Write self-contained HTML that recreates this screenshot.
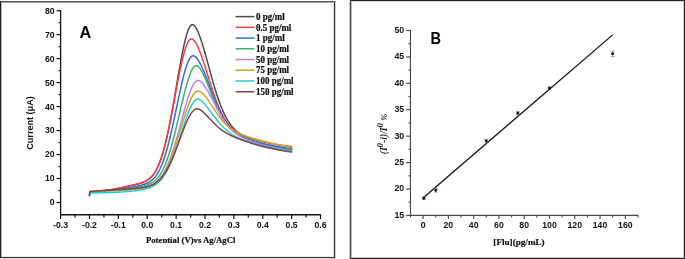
<!DOCTYPE html>
<html><head><meta charset="utf-8"><style>
html,body{margin:0;padding:0;background:#fff;-webkit-font-smoothing:antialiased;}
text{-webkit-font-smoothing:antialiased;}
body{width:685px;height:259px;overflow:hidden;}
svg{display:block;}
</style></head><body>
<svg width="685" height="259" viewBox="0 0 685 259" style="will-change:transform">
<rect width="685" height="259" fill="#fff"/>
<g shape-rendering="crispEdges">
<rect x="1" y="2" width="333" height="1" fill="#9a9a9a"/>
<rect x="1" y="256" width="333" height="1" fill="#eeeeee"/>
<rect x="0" y="258" width="336" height="1" fill="#dddddd"/>
<rect x="1" y="2" width="1" height="255" fill="#b4b4b4"/>
<rect x="333" y="2" width="1" height="255" fill="#dddddd"/>
<rect x="335" y="1" width="1" height="257" fill="#cccccc"/>
<rect x="0" y="1" width="335" height="1" fill="#5a5a5a"/>
<rect x="0" y="1" width="1" height="257" fill="#222222"/>
<rect x="334" y="1" width="1" height="257" fill="#3c3c3c"/>
<rect x="0" y="257" width="335" height="1" fill="#333333"/>
<rect x="349" y="0" width="1" height="259" fill="#cccccc"/>
<rect x="351" y="1" width="1" height="257" fill="#bbbbbb"/>
<rect x="351" y="1" width="333" height="1" fill="#dddddd"/>
<rect x="683" y="1" width="1" height="257" fill="#cccccc"/>
<rect x="351" y="257" width="332" height="1" fill="#cccccc"/>
<rect x="350" y="0" width="335" height="1" fill="#222222"/>
<rect x="350" y="0" width="1" height="259" fill="#444444"/>
<rect x="684" y="0" width="1" height="259" fill="#222222"/>
<rect x="350" y="258" width="335" height="1" fill="#222222"/>
</g>
<g stroke="#111" stroke-width="1.2" fill="none">
<path d="M60.60,10.20 V214.75 H320.82" stroke-width="1.3"/>
<path d="M56.60,202.50 H60.60"/>
<path d="M56.60,178.53 H60.60"/>
<path d="M56.60,154.55 H60.60"/>
<path d="M56.60,130.57 H60.60"/>
<path d="M56.60,106.60 H60.60"/>
<path d="M56.60,82.62 H60.60"/>
<path d="M56.60,58.65 H60.60"/>
<path d="M56.60,34.68 H60.60"/>
<path d="M56.60,10.70 H60.60"/>
<path d="M58.60,190.51 H60.60"/>
<path d="M58.60,166.54 H60.60"/>
<path d="M58.60,142.56 H60.60"/>
<path d="M58.60,118.59 H60.60"/>
<path d="M58.60,94.61 H60.60"/>
<path d="M58.60,70.64 H60.60"/>
<path d="M58.60,46.66 H60.60"/>
<path d="M58.60,22.69 H60.60"/>
<path d="M60.60,214.75 V219.05"/>
<path d="M89.48,214.75 V219.05"/>
<path d="M118.36,214.75 V219.05"/>
<path d="M147.24,214.75 V219.05"/>
<path d="M176.12,214.75 V219.05"/>
<path d="M205.00,214.75 V219.05"/>
<path d="M233.88,214.75 V219.05"/>
<path d="M262.76,214.75 V219.05"/>
<path d="M291.64,214.75 V219.05"/>
<path d="M320.52,214.75 V219.05"/>
<path d="M75.04,214.75 V217.55"/>
<path d="M103.92,214.75 V217.55"/>
<path d="M132.80,214.75 V217.55"/>
<path d="M161.68,214.75 V217.55"/>
<path d="M190.56,214.75 V217.55"/>
<path d="M219.44,214.75 V217.55"/>
<path d="M248.32,214.75 V217.55"/>
<path d="M277.20,214.75 V217.55"/>
<path d="M306.08,214.75 V217.55"/>
</g>
<g font-family='"Liberation Sans", sans-serif' font-weight="bold" font-size="8.7" fill="#111">
<text x="54.70" y="205.40" text-anchor="end">0</text>
<text x="54.70" y="181.43" text-anchor="end">10</text>
<text x="54.70" y="157.45" text-anchor="end">20</text>
<text x="54.70" y="133.47" text-anchor="end">30</text>
<text x="54.70" y="109.50" text-anchor="end">40</text>
<text x="54.70" y="85.53" text-anchor="end">50</text>
<text x="54.70" y="61.55" text-anchor="end">60</text>
<text x="54.70" y="37.58" text-anchor="end">70</text>
<text x="54.70" y="13.60" text-anchor="end">80</text>
<text x="60.60" y="227.8" text-anchor="middle">-0.3</text>
<text x="89.48" y="227.8" text-anchor="middle">-0.2</text>
<text x="118.36" y="227.8" text-anchor="middle">-0.1</text>
<text x="147.24" y="227.8" text-anchor="middle">0.0</text>
<text x="176.12" y="227.8" text-anchor="middle">0.1</text>
<text x="205.00" y="227.8" text-anchor="middle">0.2</text>
<text x="233.88" y="227.8" text-anchor="middle">0.3</text>
<text x="262.76" y="227.8" text-anchor="middle">0.4</text>
<text x="291.64" y="227.8" text-anchor="middle">0.5</text>
<text x="320.52" y="227.8" text-anchor="middle">0.6</text>
</g>
<text x="33.2" y="123" font-family='"Liberation Sans", sans-serif' font-weight="bold" font-size="9.3" fill="#111" text-anchor="middle" textLength="53.5" lengthAdjust="spacingAndGlyphs" transform="rotate(-90 33.2 123)">Current (μA)</text>
<text x="190.7" y="243.2" font-family='"Liberation Serif", serif' font-weight="bold" font-size="8.9" fill="#111" stroke="#111" stroke-width="0.2" text-anchor="middle" textLength="89.5" lengthAdjust="spacingAndGlyphs">Potential (V)vs Ag/AgCl</text>
<text x="79.5" y="38.0" font-family='"Liberation Sans", sans-serif' font-weight="bold" font-size="16.3" fill="#000">A</text>
<g fill="none" stroke-width="1.5" stroke-linejoin="round" stroke-linecap="round">
<path d="M89.48,195.34 L90.06,192.20 L90.64,192.18 L91.21,192.15 L91.79,192.11 L92.37,192.07 L92.95,192.03 L93.52,191.99 L94.10,191.95 L94.68,191.90 L95.26,191.85 L95.83,191.80 L96.41,191.74 L96.99,191.69 L97.57,191.63 L98.14,191.58 L98.72,191.52 L99.30,191.46 L99.88,191.40 L100.45,191.34 L101.03,191.27 L101.61,191.21 L102.19,191.14 L102.76,191.07 L103.34,191.01 L103.92,190.93 L104.50,190.86 L105.08,190.79 L105.65,190.71 L106.23,190.63 L106.81,190.55 L107.39,190.47 L107.96,190.38 L108.54,190.30 L109.12,190.21 L109.70,190.12 L110.27,190.03 L110.85,189.93 L111.43,189.84 L112.01,189.74 L112.58,189.64 L113.16,189.54 L113.74,189.44 L114.32,189.34 L114.89,189.23 L115.47,189.13 L116.05,189.02 L116.63,188.91 L117.20,188.80 L117.78,188.69 L118.36,188.58 L118.94,188.46 L119.52,188.34 L120.09,188.22 L120.67,188.09 L121.25,187.96 L121.83,187.83 L122.40,187.69 L122.98,187.56 L123.56,187.42 L124.14,187.28 L124.71,187.13 L125.29,186.99 L125.87,186.85 L126.45,186.71 L127.02,186.57 L127.60,186.43 L128.18,186.29 L128.76,186.16 L129.33,186.02 L129.91,185.88 L130.49,185.75 L131.07,185.62 L131.64,185.48 L132.22,185.35 L132.80,185.21 L133.38,185.07 L133.96,184.93 L134.53,184.79 L135.11,184.65 L135.69,184.50 L136.27,184.35 L136.84,184.20 L137.42,184.05 L138.00,183.89 L138.58,183.73 L139.15,183.56 L139.73,183.39 L140.31,183.21 L140.89,183.02 L141.46,182.82 L142.04,182.61 L142.62,182.39 L143.20,182.16 L143.77,181.92 L144.35,181.65 L144.93,181.38 L145.51,181.08 L146.08,180.76 L146.66,180.43 L147.24,180.07 L147.82,179.69 L148.40,179.29 L148.97,178.86 L149.55,178.41 L150.13,177.92 L150.71,177.41 L151.28,176.86 L151.86,176.27 L152.44,175.63 L153.02,174.95 L153.59,174.22 L154.17,173.43 L154.75,172.57 L155.33,171.65 L155.90,170.67 L156.48,169.61 L157.06,168.48 L157.64,167.28 L158.21,166.00 L158.79,164.65 L159.37,163.22 L159.95,161.71 L160.52,160.12 L161.10,158.45 L161.68,156.70 L162.26,154.86 L162.84,152.94 L163.41,150.94 L163.99,148.85 L164.57,146.68 L165.15,144.42 L165.72,142.07 L166.30,139.64 L166.88,137.13 L167.46,134.53 L168.03,131.85 L168.61,129.10 L169.19,126.26 L169.77,123.36 L170.34,120.38 L170.92,117.34 L171.50,114.24 L172.08,111.08 L172.65,107.87 L173.23,104.62 L173.81,101.32 L174.39,98.00 L174.96,94.64 L175.54,91.27 L176.12,87.88 L176.70,84.50 L177.28,81.11 L177.85,77.75 L178.43,74.40 L179.01,71.09 L179.59,67.82 L180.16,64.59 L180.74,61.43 L181.32,58.34 L181.90,55.33 L182.47,52.40 L183.05,49.57 L183.63,46.85 L184.21,44.25 L184.78,41.77 L185.36,39.43 L185.94,37.23 L186.52,35.17 L187.09,33.28 L187.67,31.56 L188.25,30.01 L188.83,28.64 L189.40,27.46 L189.98,26.48 L190.56,25.71 L191.14,25.13 L191.72,24.77 L192.29,24.61 L192.87,24.65 L193.45,24.88 L194.03,25.29 L194.60,25.87 L195.18,26.60 L195.76,27.46 L196.34,28.45 L196.91,29.56 L197.49,30.77 L198.07,32.07 L198.65,33.46 L199.22,34.92 L199.80,36.47 L200.38,38.08 L200.96,39.76 L201.53,41.50 L202.11,43.30 L202.69,45.15 L203.27,47.05 L203.84,48.99 L204.42,50.97 L205.00,52.99 L205.58,55.03 L206.16,57.10 L206.73,59.19 L207.31,61.29 L207.89,63.41 L208.47,65.53 L209.04,67.65 L209.62,69.77 L210.20,71.88 L210.78,73.98 L211.35,76.07 L211.93,78.14 L212.51,80.19 L213.09,82.22 L213.66,84.21 L214.24,86.18 L214.82,88.12 L215.40,90.02 L215.97,91.88 L216.55,93.71 L217.13,95.49 L217.71,97.23 L218.28,98.93 L218.86,100.59 L219.44,102.20 L220.02,103.77 L220.60,105.28 L221.17,106.76 L221.75,108.18 L222.33,109.56 L222.91,110.90 L223.48,112.19 L224.06,113.43 L224.64,114.63 L225.22,115.79 L225.79,116.90 L226.37,117.97 L226.95,119.00 L227.53,119.99 L228.10,120.94 L228.68,121.85 L229.26,122.73 L229.84,123.57 L230.41,124.38 L230.99,125.15 L231.57,125.89 L232.15,126.61 L232.72,127.29 L233.30,127.94 L233.88,128.57 L234.46,129.18 L235.04,129.76 L235.61,130.32 L236.19,130.85 L236.77,131.37 L237.35,131.86 L237.92,132.34 L238.50,132.80 L239.08,133.24 L239.66,133.67 L240.23,134.08 L240.81,134.48 L241.39,134.87 L241.97,135.24 L242.54,135.60 L243.12,135.95 L243.70,136.30 L244.28,136.63 L244.85,136.95 L245.43,137.26 L246.01,137.57 L246.59,137.87 L247.16,138.16 L247.74,138.44 L248.32,138.72 L248.90,138.99 L249.48,139.25 L250.05,139.51 L250.63,139.77 L251.21,140.02 L251.79,140.26 L252.36,140.50 L252.94,140.74 L253.52,140.97 L254.10,141.20 L254.67,141.42 L255.25,141.64 L255.83,141.86 L256.41,142.07 L256.98,142.28 L257.56,142.48 L258.14,142.68 L258.72,142.88 L259.29,143.08 L259.87,143.27 L260.45,143.46 L261.03,143.64 L261.60,143.83 L262.18,144.01 L262.76,144.18 L263.34,144.36 L263.92,144.53 L264.49,144.70 L265.07,144.86 L265.65,145.03 L266.23,145.19 L266.80,145.34 L267.38,145.50 L267.96,145.65 L268.54,145.80 L269.11,145.94 L269.69,146.08 L270.27,146.22 L270.85,146.36 L271.42,146.50 L272.00,146.63 L272.58,146.76 L273.16,146.88 L273.73,147.01 L274.31,147.13 L274.89,147.25 L275.47,147.36 L276.04,147.47 L276.62,147.58 L277.20,147.69 L277.78,147.79 L278.36,147.90 L278.93,147.99 L279.51,148.09 L280.09,148.18 L280.67,148.27 L281.24,148.36 L281.82,148.45 L282.40,148.53 L282.98,148.61 L283.55,148.69 L284.13,148.76 L284.71,148.83 L285.29,148.90 L285.86,148.97 L286.44,149.03 L287.02,149.09 L287.60,149.14 L288.17,149.20 L288.75,149.24 L289.33,149.29 L289.91,149.33 L290.48,149.37 L291.06,149.40 L291.64,149.42" stroke="#4d4d4d"/>
<path d="M89.48,195.24 L90.06,192.09 L90.64,192.06 L91.21,192.02 L91.79,191.97 L92.37,191.92 L92.95,191.87 L93.52,191.81 L94.10,191.76 L94.68,191.69 L95.26,191.63 L95.83,191.57 L96.41,191.50 L96.99,191.44 L97.57,191.37 L98.14,191.30 L98.72,191.23 L99.30,191.16 L99.88,191.09 L100.45,191.02 L101.03,190.95 L101.61,190.88 L102.19,190.80 L102.76,190.73 L103.34,190.65 L103.92,190.57 L104.50,190.50 L105.08,190.41 L105.65,190.33 L106.23,190.25 L106.81,190.16 L107.39,190.08 L107.96,189.99 L108.54,189.90 L109.12,189.81 L109.70,189.71 L110.27,189.62 L110.85,189.52 L111.43,189.43 L112.01,189.33 L112.58,189.23 L113.16,189.13 L113.74,189.03 L114.32,188.93 L114.89,188.83 L115.47,188.73 L116.05,188.62 L116.63,188.52 L117.20,188.41 L117.78,188.31 L118.36,188.20 L118.94,188.09 L119.52,187.97 L120.09,187.85 L120.67,187.73 L121.25,187.61 L121.83,187.49 L122.40,187.36 L122.98,187.23 L123.56,187.10 L124.14,186.97 L124.71,186.84 L125.29,186.71 L125.87,186.58 L126.45,186.45 L127.02,186.32 L127.60,186.19 L128.18,186.07 L128.76,185.94 L129.33,185.82 L129.91,185.70 L130.49,185.58 L131.07,185.46 L131.64,185.34 L132.22,185.22 L132.80,185.10 L133.38,184.98 L133.96,184.85 L134.53,184.73 L135.11,184.60 L135.69,184.47 L136.27,184.34 L136.84,184.20 L137.42,184.06 L138.00,183.92 L138.58,183.77 L139.15,183.62 L139.73,183.46 L140.31,183.29 L140.89,183.12 L141.46,182.93 L142.04,182.74 L142.62,182.53 L143.20,182.31 L143.77,182.07 L144.35,181.82 L144.93,181.55 L145.51,181.25 L146.08,180.94 L146.66,180.61 L147.24,180.26 L147.82,179.88 L148.40,179.47 L148.97,179.04 L149.55,178.59 L150.13,178.10 L150.71,177.58 L151.28,177.02 L151.86,176.42 L152.44,175.77 L153.02,175.08 L153.59,174.33 L154.17,173.53 L154.75,172.66 L155.33,171.72 L155.90,170.72 L156.48,169.65 L157.06,168.50 L157.64,167.28 L158.21,165.99 L158.79,164.62 L159.37,163.17 L159.95,161.65 L160.52,160.05 L161.10,158.37 L161.68,156.62 L162.26,154.78 L162.84,152.87 L163.41,150.87 L163.99,148.79 L164.57,146.64 L165.15,144.41 L165.72,142.09 L166.30,139.70 L166.88,137.24 L167.46,134.70 L168.03,132.10 L168.61,129.42 L169.19,126.68 L169.77,123.88 L170.34,121.03 L170.92,118.12 L171.50,115.16 L172.08,112.17 L172.65,109.14 L173.23,106.07 L173.81,102.99 L174.39,99.89 L174.96,96.78 L175.54,93.67 L176.12,90.56 L176.70,87.47 L177.28,84.40 L177.85,81.36 L178.43,78.36 L179.01,75.42 L179.59,72.52 L180.16,69.70 L180.74,66.94 L181.32,64.27 L181.90,61.70 L182.47,59.22 L183.05,56.85 L183.63,54.60 L184.21,52.47 L184.78,50.48 L185.36,48.62 L185.94,46.91 L186.52,45.36 L187.09,43.96 L187.67,42.73 L188.25,41.67 L188.83,40.78 L189.40,40.07 L189.98,39.54 L190.56,39.19 L191.14,39.01 L191.72,39.01 L192.29,39.16 L192.87,39.47 L193.45,39.92 L194.03,40.50 L194.60,41.20 L195.18,42.01 L195.76,42.91 L196.34,43.91 L196.91,45.00 L197.49,46.16 L198.07,47.39 L198.65,48.70 L199.22,50.07 L199.80,51.50 L200.38,52.99 L200.96,54.53 L201.53,56.12 L202.11,57.76 L202.69,59.43 L203.27,61.15 L203.84,62.89 L204.42,64.67 L205.00,66.47 L205.58,68.28 L206.16,70.12 L206.73,71.96 L207.31,73.81 L207.89,75.67 L208.47,77.52 L209.04,79.37 L209.62,81.21 L210.20,83.04 L210.78,84.86 L211.35,86.65 L211.93,88.43 L212.51,90.18 L213.09,91.91 L213.66,93.61 L214.24,95.28 L214.82,96.91 L215.40,98.52 L215.97,100.08 L216.55,101.61 L217.13,103.10 L217.71,104.55 L218.28,105.96 L218.86,107.33 L219.44,108.66 L220.02,109.95 L220.60,111.20 L221.17,112.40 L221.75,113.57 L222.33,114.69 L222.91,115.77 L223.48,116.81 L224.06,117.82 L224.64,118.78 L225.22,119.71 L225.79,120.59 L226.37,121.45 L226.95,122.26 L227.53,123.05 L228.10,123.80 L228.68,124.52 L229.26,125.21 L229.84,125.86 L230.41,126.49 L230.99,127.10 L231.57,127.67 L232.15,128.23 L232.72,128.75 L233.30,129.26 L233.88,129.74 L234.46,130.21 L235.04,130.65 L235.61,131.07 L236.19,131.48 L236.77,131.87 L237.35,132.25 L237.92,132.61 L238.50,132.96 L239.08,133.29 L239.66,133.61 L240.23,133.92 L240.81,134.22 L241.39,134.51 L241.97,134.79 L242.54,135.07 L243.12,135.33 L243.70,135.58 L244.28,135.83 L244.85,136.07 L245.43,136.31 L246.01,136.54 L246.59,136.76 L247.16,136.98 L247.74,137.19 L248.32,137.40 L248.90,137.60 L249.48,137.80 L250.05,138.00 L250.63,138.19 L251.21,138.38 L251.79,138.57 L252.36,138.75 L252.94,138.93 L253.52,139.11 L254.10,139.28 L254.67,139.45 L255.25,139.62 L255.83,139.79 L256.41,139.95 L256.98,140.11 L257.56,140.27 L258.14,140.43 L258.72,140.59 L259.29,140.74 L259.87,140.89 L260.45,141.04 L261.03,141.19 L261.60,141.33 L262.18,141.48 L262.76,141.62 L263.34,141.76 L263.92,141.90 L264.49,142.03 L265.07,142.17 L265.65,142.30 L266.23,142.43 L266.80,142.56 L267.38,142.69 L267.96,142.81 L268.54,142.94 L269.11,143.06 L269.69,143.18 L270.27,143.30 L270.85,143.42 L271.42,143.54 L272.00,143.65 L272.58,143.76 L273.16,143.87 L273.73,143.98 L274.31,144.09 L274.89,144.20 L275.47,144.30 L276.04,144.40 L276.62,144.50 L277.20,144.60 L277.78,144.70 L278.36,144.80 L278.93,144.89 L279.51,144.98 L280.09,145.07 L280.67,145.16 L281.24,145.25 L281.82,145.34 L282.40,145.42 L282.98,145.50 L283.55,145.59 L284.13,145.67 L284.71,145.74 L285.29,145.82 L285.86,145.89 L286.44,145.96 L287.02,146.03 L287.60,146.10 L288.17,146.16 L288.75,146.22 L289.33,146.28 L289.91,146.33 L290.48,146.38 L291.06,146.42 L291.64,146.45" stroke="#ff3d3d"/>
<path d="M89.48,195.13 L90.06,191.98 L90.64,191.94 L91.21,191.89 L91.79,191.84 L92.37,191.79 L92.95,191.73 L93.52,191.68 L94.10,191.62 L94.68,191.55 L95.26,191.49 L95.83,191.43 L96.41,191.37 L96.99,191.31 L97.57,191.25 L98.14,191.18 L98.72,191.12 L99.30,191.06 L99.88,191.00 L100.45,190.94 L101.03,190.88 L101.61,190.82 L102.19,190.76 L102.76,190.70 L103.34,190.64 L103.92,190.58 L104.50,190.52 L105.08,190.46 L105.65,190.40 L106.23,190.34 L106.81,190.28 L107.39,190.22 L107.96,190.16 L108.54,190.10 L109.12,190.04 L109.70,189.99 L110.27,189.93 L110.85,189.87 L111.43,189.81 L112.01,189.75 L112.58,189.70 L113.16,189.64 L113.74,189.58 L114.32,189.53 L114.89,189.47 L115.47,189.41 L116.05,189.35 L116.63,189.29 L117.20,189.24 L117.78,189.18 L118.36,189.12 L118.94,189.05 L119.52,188.99 L120.09,188.93 L120.67,188.86 L121.25,188.79 L121.83,188.72 L122.40,188.65 L122.98,188.58 L123.56,188.50 L124.14,188.42 L124.71,188.35 L125.29,188.27 L125.87,188.18 L126.45,188.10 L127.02,188.01 L127.60,187.93 L128.18,187.84 L128.76,187.75 L129.33,187.66 L129.91,187.56 L130.49,187.47 L131.07,187.37 L131.64,187.27 L132.22,187.16 L132.80,187.05 L133.38,186.94 L133.96,186.83 L134.53,186.71 L135.11,186.59 L135.69,186.46 L136.27,186.34 L136.84,186.21 L137.42,186.07 L138.00,185.94 L138.58,185.80 L139.15,185.67 L139.73,185.52 L140.31,185.38 L140.89,185.23 L141.46,185.08 L142.04,184.91 L142.62,184.74 L143.20,184.57 L143.77,184.38 L144.35,184.17 L144.93,183.96 L145.51,183.73 L146.08,183.49 L146.66,183.23 L147.24,182.96 L147.82,182.67 L148.40,182.37 L148.97,182.04 L149.55,181.71 L150.13,181.35 L150.71,180.97 L151.28,180.57 L151.86,180.13 L152.44,179.67 L153.02,179.17 L153.59,178.63 L154.17,178.04 L154.75,177.40 L155.33,176.71 L155.90,175.96 L156.48,175.15 L157.06,174.28 L157.64,173.36 L158.21,172.37 L158.79,171.31 L159.37,170.20 L159.95,169.01 L160.52,167.77 L161.10,166.46 L161.68,165.08 L162.26,163.63 L162.84,162.11 L163.41,160.53 L163.99,158.87 L164.57,157.15 L165.15,155.35 L165.72,153.48 L166.30,151.54 L166.88,149.54 L167.46,147.46 L168.03,145.32 L168.61,143.11 L169.19,140.84 L169.77,138.50 L170.34,136.11 L170.92,133.66 L171.50,131.15 L172.08,128.60 L172.65,126.01 L173.23,123.37 L173.81,120.70 L174.39,117.99 L174.96,115.27 L175.54,112.52 L176.12,109.76 L176.70,106.99 L177.28,104.22 L177.85,101.46 L178.43,98.72 L179.01,95.99 L179.59,93.29 L180.16,90.63 L180.74,88.02 L181.32,85.45 L181.90,82.95 L182.47,80.51 L183.05,78.14 L183.63,75.86 L184.21,73.67 L184.78,71.57 L185.36,69.58 L185.94,67.70 L186.52,65.93 L187.09,64.29 L187.67,62.78 L188.25,61.41 L188.83,60.17 L189.40,59.08 L189.98,58.15 L190.56,57.36 L191.14,56.74 L191.72,56.27 L192.29,55.96 L192.87,55.80 L193.45,55.79 L194.03,55.91 L194.60,56.17 L195.18,56.55 L195.76,57.05 L196.34,57.64 L196.91,58.31 L197.49,59.08 L198.07,59.91 L198.65,60.82 L199.22,61.78 L199.80,62.81 L200.38,63.89 L200.96,65.03 L201.53,66.21 L202.11,67.44 L202.69,68.71 L203.27,70.02 L203.84,71.37 L204.42,72.75 L205.00,74.16 L205.58,75.60 L206.16,77.07 L206.73,78.55 L207.31,80.05 L207.89,81.56 L208.47,83.08 L209.04,84.61 L209.62,86.15 L210.20,87.68 L210.78,89.22 L211.35,90.74 L211.93,92.27 L212.51,93.78 L213.09,95.27 L213.66,96.76 L214.24,98.22 L214.82,99.67 L215.40,101.09 L215.97,102.50 L216.55,103.87 L217.13,105.23 L217.71,106.55 L218.28,107.84 L218.86,109.11 L219.44,110.34 L220.02,111.55 L220.60,112.72 L221.17,113.86 L221.75,114.97 L222.33,116.04 L222.91,117.08 L223.48,118.09 L224.06,119.06 L224.64,120.00 L225.22,120.91 L225.79,121.79 L226.37,122.64 L226.95,123.45 L227.53,124.24 L228.10,124.99 L228.68,125.72 L229.26,126.42 L229.84,127.09 L230.41,127.73 L230.99,128.35 L231.57,128.95 L232.15,129.52 L232.72,130.06 L233.30,130.59 L233.88,131.09 L234.46,131.57 L235.04,132.04 L235.61,132.48 L236.19,132.91 L236.77,133.32 L237.35,133.72 L237.92,134.10 L238.50,134.46 L239.08,134.81 L239.66,135.15 L240.23,135.48 L240.81,135.79 L241.39,136.10 L241.97,136.39 L242.54,136.68 L243.12,136.95 L243.70,137.22 L244.28,137.48 L244.85,137.73 L245.43,137.97 L246.01,138.21 L246.59,138.44 L247.16,138.66 L247.74,138.88 L248.32,139.10 L248.90,139.30 L249.48,139.51 L250.05,139.71 L250.63,139.91 L251.21,140.10 L251.79,140.29 L252.36,140.47 L252.94,140.65 L253.52,140.83 L254.10,141.01 L254.67,141.18 L255.25,141.35 L255.83,141.52 L256.41,141.68 L256.98,141.84 L257.56,142.00 L258.14,142.16 L258.72,142.32 L259.29,142.47 L259.87,142.62 L260.45,142.77 L261.03,142.92 L261.60,143.07 L262.18,143.21 L262.76,143.35 L263.34,143.50 L263.92,143.63 L264.49,143.77 L265.07,143.91 L265.65,144.04 L266.23,144.17 L266.80,144.30 L267.38,144.43 L267.96,144.56 L268.54,144.69 L269.11,144.81 L269.69,144.93 L270.27,145.05 L270.85,145.17 L271.42,145.29 L272.00,145.41 L272.58,145.52 L273.16,145.64 L273.73,145.75 L274.31,145.86 L274.89,145.97 L275.47,146.07 L276.04,146.18 L276.62,146.28 L277.20,146.39 L277.78,146.49 L278.36,146.59 L278.93,146.69 L279.51,146.78 L280.09,146.88 L280.67,146.97 L281.24,147.06 L281.82,147.15 L282.40,147.24 L282.98,147.33 L283.55,147.42 L284.13,147.50 L284.71,147.58 L285.29,147.66 L285.86,147.74 L286.44,147.82 L287.02,147.89 L287.60,147.97 L288.17,148.04 L288.75,148.10 L289.33,148.16 L289.91,148.22 L290.48,148.27 L291.06,148.31 L291.64,148.35" stroke="#2f6fe6"/>
<path d="M89.48,195.00 L90.06,191.86 L90.64,191.84 L91.21,191.81 L91.79,191.78 L92.37,191.74 L92.95,191.71 L93.52,191.67 L94.10,191.63 L94.68,191.59 L95.26,191.55 L95.83,191.50 L96.41,191.46 L96.99,191.42 L97.57,191.38 L98.14,191.34 L98.72,191.30 L99.30,191.25 L99.88,191.21 L100.45,191.17 L101.03,191.12 L101.61,191.08 L102.19,191.04 L102.76,191.00 L103.34,190.95 L103.92,190.91 L104.50,190.87 L105.08,190.82 L105.65,190.78 L106.23,190.74 L106.81,190.69 L107.39,190.65 L107.96,190.60 L108.54,190.56 L109.12,190.52 L109.70,190.47 L110.27,190.43 L110.85,190.38 L111.43,190.34 L112.01,190.29 L112.58,190.25 L113.16,190.20 L113.74,190.16 L114.32,190.11 L114.89,190.07 L115.47,190.02 L116.05,189.97 L116.63,189.93 L117.20,189.88 L117.78,189.83 L118.36,189.78 L118.94,189.74 L119.52,189.69 L120.09,189.64 L120.67,189.58 L121.25,189.53 L121.83,189.48 L122.40,189.42 L122.98,189.36 L123.56,189.31 L124.14,189.25 L124.71,189.19 L125.29,189.12 L125.87,189.06 L126.45,189.00 L127.02,188.93 L127.60,188.86 L128.18,188.80 L128.76,188.73 L129.33,188.66 L129.91,188.58 L130.49,188.51 L131.07,188.44 L131.64,188.36 L132.22,188.28 L132.80,188.20 L133.38,188.12 L133.96,188.03 L134.53,187.95 L135.11,187.86 L135.69,187.76 L136.27,187.67 L136.84,187.57 L137.42,187.46 L138.00,187.35 L138.58,187.24 L139.15,187.12 L139.73,186.99 L140.31,186.86 L140.89,186.72 L141.46,186.57 L142.04,186.41 L142.62,186.25 L143.20,186.08 L143.77,185.90 L144.35,185.71 L144.93,185.52 L145.51,185.32 L146.08,185.11 L146.66,184.90 L147.24,184.69 L147.82,184.47 L148.40,184.24 L148.97,184.02 L149.55,183.78 L150.13,183.54 L150.71,183.29 L151.28,183.03 L151.86,182.75 L152.44,182.44 L153.02,182.10 L153.59,181.73 L154.17,181.32 L154.75,180.88 L155.33,180.39 L155.90,179.85 L156.48,179.27 L157.06,178.65 L157.64,177.98 L158.21,177.27 L158.79,176.51 L159.37,175.70 L159.95,174.84 L160.52,173.93 L161.10,172.98 L161.68,171.97 L162.26,170.91 L162.84,169.79 L163.41,168.62 L163.99,167.38 L164.57,166.10 L165.15,164.75 L165.72,163.34 L166.30,161.87 L166.88,160.34 L167.46,158.75 L168.03,157.10 L168.61,155.39 L169.19,153.61 L169.77,151.78 L170.34,149.89 L170.92,147.94 L171.50,145.93 L172.08,143.87 L172.65,141.75 L173.23,139.58 L173.81,137.37 L174.39,135.11 L174.96,132.81 L175.54,130.47 L176.12,128.09 L176.70,125.69 L177.28,123.26 L177.85,120.80 L178.43,118.33 L179.01,115.85 L179.59,113.36 L180.16,110.87 L180.74,108.38 L181.32,105.91 L181.90,103.45 L182.47,101.01 L183.05,98.60 L183.63,96.23 L184.21,93.90 L184.78,91.62 L185.36,89.39 L185.94,87.23 L186.52,85.13 L187.09,83.11 L187.67,81.17 L188.25,79.31 L188.83,77.55 L189.40,75.88 L189.98,74.32 L190.56,72.87 L191.14,71.53 L191.72,70.31 L192.29,69.22 L192.87,68.27 L193.45,67.45 L194.03,66.77 L194.60,66.25 L195.18,65.88 L195.76,65.66 L196.34,65.60 L196.91,65.69 L197.49,65.93 L198.07,66.30 L198.65,66.81 L199.22,67.42 L199.80,68.15 L200.38,68.96 L200.96,69.86 L201.53,70.84 L202.11,71.88 L202.69,72.99 L203.27,74.15 L203.84,75.36 L204.42,76.62 L205.00,77.92 L205.58,79.26 L206.16,80.63 L206.73,82.02 L207.31,83.45 L207.89,84.89 L208.47,86.36 L209.04,87.83 L209.62,89.32 L210.20,90.80 L210.78,92.29 L211.35,93.78 L211.93,95.26 L212.51,96.73 L213.09,98.19 L213.66,99.63 L214.24,101.06 L214.82,102.46 L215.40,103.84 L215.97,105.19 L216.55,106.51 L217.13,107.81 L217.71,109.08 L218.28,110.31 L218.86,111.51 L219.44,112.67 L220.02,113.81 L220.60,114.90 L221.17,115.96 L221.75,116.99 L222.33,117.98 L222.91,118.94 L223.48,119.86 L224.06,120.74 L224.64,121.60 L225.22,122.42 L225.79,123.21 L226.37,123.97 L226.95,124.70 L227.53,125.40 L228.10,126.07 L228.68,126.71 L229.26,127.33 L229.84,127.93 L230.41,128.50 L230.99,129.05 L231.57,129.57 L232.15,130.08 L232.72,130.57 L233.30,131.04 L233.88,131.49 L234.46,131.93 L235.04,132.35 L235.61,132.76 L236.19,133.15 L236.77,133.53 L237.35,133.90 L237.92,134.26 L238.50,134.61 L239.08,134.95 L239.66,135.28 L240.23,135.60 L240.81,135.92 L241.39,136.22 L241.97,136.52 L242.54,136.81 L243.12,137.10 L243.70,137.38 L244.28,137.66 L244.85,137.93 L245.43,138.19 L246.01,138.45 L246.59,138.71 L247.16,138.96 L247.74,139.21 L248.32,139.46 L248.90,139.70 L249.48,139.93 L250.05,140.17 L250.63,140.40 L251.21,140.62 L251.79,140.85 L252.36,141.07 L252.94,141.29 L253.52,141.50 L254.10,141.71 L254.67,141.92 L255.25,142.13 L255.83,142.33 L256.41,142.53 L256.98,142.73 L257.56,142.92 L258.14,143.12 L258.72,143.31 L259.29,143.49 L259.87,143.68 L260.45,143.86 L261.03,144.04 L261.60,144.21 L262.18,144.39 L262.76,144.56 L263.34,144.73 L263.92,144.89 L264.49,145.06 L265.07,145.22 L265.65,145.38 L266.23,145.53 L266.80,145.68 L267.38,145.84 L267.96,145.98 L268.54,146.13 L269.11,146.27 L269.69,146.41 L270.27,146.55 L270.85,146.68 L271.42,146.82 L272.00,146.95 L272.58,147.07 L273.16,147.20 L273.73,147.32 L274.31,147.44 L274.89,147.56 L275.47,147.67 L276.04,147.78 L276.62,147.89 L277.20,148.00 L277.78,148.10 L278.36,148.20 L278.93,148.30 L279.51,148.40 L280.09,148.49 L280.67,148.58 L281.24,148.67 L281.82,148.76 L282.40,148.84 L282.98,148.92 L283.55,149.00 L284.13,149.07 L284.71,149.15 L285.29,149.22 L285.86,149.28 L286.44,149.35 L287.02,149.41 L287.60,149.47 L288.17,149.52 L288.75,149.57 L289.33,149.62 L289.91,149.66 L290.48,149.70 L291.06,149.73 L291.64,149.76" stroke="#3caf6e"/>
<path d="M89.48,194.88 L90.06,191.75 L90.64,191.73 L91.21,191.71 L91.79,191.69 L92.37,191.66 L92.95,191.63 L93.52,191.60 L94.10,191.58 L94.68,191.55 L95.26,191.52 L95.83,191.49 L96.41,191.45 L96.99,191.42 L97.57,191.39 L98.14,191.36 L98.72,191.33 L99.30,191.30 L99.88,191.27 L100.45,191.24 L101.03,191.21 L101.61,191.18 L102.19,191.14 L102.76,191.11 L103.34,191.08 L103.92,191.05 L104.50,191.02 L105.08,190.99 L105.65,190.96 L106.23,190.93 L106.81,190.89 L107.39,190.86 L107.96,190.83 L108.54,190.80 L109.12,190.77 L109.70,190.73 L110.27,190.70 L110.85,190.67 L111.43,190.64 L112.01,190.61 L112.58,190.57 L113.16,190.54 L113.74,190.51 L114.32,190.48 L114.89,190.44 L115.47,190.41 L116.05,190.38 L116.63,190.35 L117.20,190.31 L117.78,190.28 L118.36,190.24 L118.94,190.21 L119.52,190.17 L120.09,190.14 L120.67,190.10 L121.25,190.06 L121.83,190.03 L122.40,189.99 L122.98,189.95 L123.56,189.91 L124.14,189.87 L124.71,189.82 L125.29,189.78 L125.87,189.74 L126.45,189.69 L127.02,189.65 L127.60,189.60 L128.18,189.55 L128.76,189.51 L129.33,189.46 L129.91,189.41 L130.49,189.36 L131.07,189.31 L131.64,189.25 L132.22,189.20 L132.80,189.14 L133.38,189.09 L133.96,189.03 L134.53,188.97 L135.11,188.91 L135.69,188.84 L136.27,188.78 L136.84,188.71 L137.42,188.64 L138.00,188.57 L138.58,188.49 L139.15,188.41 L139.73,188.33 L140.31,188.25 L140.89,188.16 L141.46,188.06 L142.04,187.96 L142.62,187.86 L143.20,187.75 L143.77,187.63 L144.35,187.51 L144.93,187.38 L145.51,187.24 L146.08,187.09 L146.66,186.93 L147.24,186.76 L147.82,186.58 L148.40,186.39 L148.97,186.19 L149.55,185.97 L150.13,185.73 L150.71,185.48 L151.28,185.21 L151.86,184.93 L152.44,184.62 L153.02,184.29 L153.59,183.94 L154.17,183.57 L154.75,183.17 L155.33,182.74 L155.90,182.29 L156.48,181.81 L157.06,181.30 L157.64,180.76 L158.21,180.18 L158.79,179.57 L159.37,178.93 L159.95,178.24 L160.52,177.52 L161.10,176.76 L161.68,175.96 L162.26,175.11 L162.84,174.22 L163.41,173.28 L163.99,172.30 L164.57,171.28 L165.15,170.20 L165.72,169.07 L166.30,167.90 L166.88,166.67 L167.46,165.39 L168.03,164.07 L168.61,162.69 L169.19,161.26 L169.77,159.77 L170.34,158.24 L170.92,156.66 L171.50,155.02 L172.08,153.34 L172.65,151.61 L173.23,149.83 L173.81,148.01 L174.39,146.15 L174.96,144.24 L175.54,142.29 L176.12,140.31 L176.70,138.30 L177.28,136.25 L177.85,134.18 L178.43,132.09 L179.01,129.97 L179.59,127.84 L180.16,125.69 L180.74,123.54 L181.32,121.39 L181.90,119.23 L182.47,117.08 L183.05,114.95 L183.63,112.82 L184.21,110.72 L184.78,108.65 L185.36,106.61 L185.94,104.61 L186.52,102.65 L187.09,100.74 L187.67,98.88 L188.25,97.09 L188.83,95.36 L189.40,93.70 L189.98,92.11 L190.56,90.61 L191.14,89.19 L191.72,87.86 L192.29,86.63 L192.87,85.49 L193.45,84.47 L194.03,83.55 L194.60,82.74 L195.18,82.05 L195.76,81.49 L196.34,81.04 L196.91,80.73 L197.49,80.54 L198.07,80.47 L198.65,80.52 L199.22,80.68 L199.80,80.95 L200.38,81.31 L200.96,81.76 L201.53,82.28 L202.11,82.87 L202.69,83.52 L203.27,84.23 L203.84,84.98 L204.42,85.77 L205.00,86.60 L205.58,87.46 L206.16,88.36 L206.73,89.29 L207.31,90.25 L207.89,91.24 L208.47,92.24 L209.04,93.27 L209.62,94.32 L210.20,95.39 L210.78,96.47 L211.35,97.56 L211.93,98.66 L212.51,99.76 L213.09,100.88 L213.66,101.99 L214.24,103.11 L214.82,104.22 L215.40,105.33 L215.97,106.44 L216.55,107.53 L217.13,108.62 L217.71,109.70 L218.28,110.76 L218.86,111.81 L219.44,112.85 L220.02,113.86 L220.60,114.86 L221.17,115.85 L221.75,116.81 L222.33,117.75 L222.91,118.67 L223.48,119.56 L224.06,120.44 L224.64,121.29 L225.22,122.12 L225.79,122.93 L226.37,123.71 L226.95,124.47 L227.53,125.21 L228.10,125.93 L228.68,126.62 L229.26,127.29 L229.84,127.94 L230.41,128.56 L230.99,129.17 L231.57,129.76 L232.15,130.32 L232.72,130.87 L233.30,131.39 L233.88,131.90 L234.46,132.39 L235.04,132.86 L235.61,133.32 L236.19,133.76 L236.77,134.19 L237.35,134.60 L237.92,135.00 L238.50,135.38 L239.08,135.76 L239.66,136.12 L240.23,136.47 L240.81,136.80 L241.39,137.13 L241.97,137.45 L242.54,137.76 L243.12,138.06 L243.70,138.35 L244.28,138.63 L244.85,138.91 L245.43,139.18 L246.01,139.44 L246.59,139.70 L247.16,139.95 L247.74,140.19 L248.32,140.43 L248.90,140.67 L249.48,140.90 L250.05,141.12 L250.63,141.34 L251.21,141.56 L251.79,141.78 L252.36,141.98 L252.94,142.19 L253.52,142.39 L254.10,142.59 L254.67,142.79 L255.25,142.98 L255.83,143.17 L256.41,143.36 L256.98,143.54 L257.56,143.73 L258.14,143.91 L258.72,144.08 L259.29,144.26 L259.87,144.43 L260.45,144.60 L261.03,144.77 L261.60,144.93 L262.18,145.10 L262.76,145.26 L263.34,145.42 L263.92,145.57 L264.49,145.73 L265.07,145.88 L265.65,146.03 L266.23,146.18 L266.80,146.33 L267.38,146.47 L267.96,146.62 L268.54,146.76 L269.11,146.90 L269.69,147.03 L270.27,147.17 L270.85,147.30 L271.42,147.43 L272.00,147.56 L272.58,147.69 L273.16,147.81 L273.73,147.94 L274.31,148.06 L274.89,148.18 L275.47,148.29 L276.04,148.41 L276.62,148.52 L277.20,148.63 L277.78,148.74 L278.36,148.85 L278.93,148.96 L279.51,149.06 L280.09,149.16 L280.67,149.26 L281.24,149.36 L281.82,149.46 L282.40,149.55 L282.98,149.64 L283.55,149.73 L284.13,149.82 L284.71,149.91 L285.29,149.99 L285.86,150.08 L286.44,150.16 L287.02,150.23 L287.60,150.31 L288.17,150.38 L288.75,150.44 L289.33,150.51 L289.91,150.56 L290.48,150.61 L291.06,150.66 L291.64,150.70" stroke="#bf7ff5"/>
<path d="M89.48,194.67 L90.06,191.54 L90.64,191.53 L91.21,191.52 L91.79,191.51 L92.37,191.49 L92.95,191.48 L93.52,191.46 L94.10,191.45 L94.68,191.43 L95.26,191.41 L95.83,191.39 L96.41,191.38 L96.99,191.36 L97.57,191.34 L98.14,191.32 L98.72,191.30 L99.30,191.28 L99.88,191.26 L100.45,191.24 L101.03,191.22 L101.61,191.20 L102.19,191.18 L102.76,191.16 L103.34,191.14 L103.92,191.11 L104.50,191.09 L105.08,191.07 L105.65,191.05 L106.23,191.02 L106.81,191.00 L107.39,190.98 L107.96,190.95 L108.54,190.93 L109.12,190.91 L109.70,190.88 L110.27,190.86 L110.85,190.83 L111.43,190.81 L112.01,190.78 L112.58,190.75 L113.16,190.73 L113.74,190.70 L114.32,190.68 L114.89,190.65 L115.47,190.62 L116.05,190.59 L116.63,190.57 L117.20,190.54 L117.78,190.51 L118.36,190.48 L118.94,190.45 L119.52,190.42 L120.09,190.39 L120.67,190.35 L121.25,190.32 L121.83,190.28 L122.40,190.25 L122.98,190.21 L123.56,190.18 L124.14,190.14 L124.71,190.10 L125.29,190.06 L125.87,190.02 L126.45,189.98 L127.02,189.94 L127.60,189.89 L128.18,189.85 L128.76,189.80 L129.33,189.76 L129.91,189.71 L130.49,189.66 L131.07,189.61 L131.64,189.56 L132.22,189.51 L132.80,189.46 L133.38,189.40 L133.96,189.35 L134.53,189.29 L135.11,189.23 L135.69,189.17 L136.27,189.11 L136.84,189.04 L137.42,188.97 L138.00,188.90 L138.58,188.83 L139.15,188.75 L139.73,188.68 L140.31,188.59 L140.89,188.51 L141.46,188.42 L142.04,188.32 L142.62,188.22 L143.20,188.11 L143.77,188.00 L144.35,187.88 L144.93,187.76 L145.51,187.62 L146.08,187.48 L146.66,187.33 L147.24,187.17 L147.82,187.00 L148.40,186.81 L148.97,186.62 L149.55,186.41 L150.13,186.18 L150.71,185.94 L151.28,185.69 L151.86,185.41 L152.44,185.12 L153.02,184.81 L153.59,184.48 L154.17,184.12 L154.75,183.75 L155.33,183.34 L155.90,182.92 L156.48,182.46 L157.06,181.98 L157.64,181.47 L158.21,180.92 L158.79,180.35 L159.37,179.74 L159.95,179.10 L160.52,178.42 L161.10,177.71 L161.68,176.95 L162.26,176.16 L162.84,175.33 L163.41,174.45 L163.99,173.54 L164.57,172.58 L165.15,171.57 L165.72,170.53 L166.30,169.43 L166.88,168.30 L167.46,167.11 L168.03,165.88 L168.61,164.61 L169.19,163.28 L169.77,161.91 L170.34,160.50 L170.92,159.04 L171.50,157.54 L172.08,156.00 L172.65,154.41 L173.23,152.78 L173.81,151.12 L174.39,149.41 L174.96,147.67 L175.54,145.90 L176.12,144.10 L176.70,142.27 L177.28,140.42 L177.85,138.54 L178.43,136.65 L179.01,134.74 L179.59,132.81 L180.16,130.88 L180.74,128.95 L181.32,127.02 L181.90,125.09 L182.47,123.17 L183.05,121.26 L183.63,119.37 L184.21,117.50 L184.78,115.66 L185.36,113.85 L185.94,112.08 L186.52,110.35 L187.09,108.66 L187.67,107.03 L188.25,105.45 L188.83,103.93 L189.40,102.48 L189.98,101.09 L190.56,99.78 L191.14,98.55 L191.72,97.39 L192.29,96.32 L192.87,95.34 L193.45,94.45 L194.03,93.66 L194.60,92.97 L195.18,92.38 L195.76,91.89 L196.34,91.52 L196.91,91.24 L197.49,91.08 L198.07,91.02 L198.65,91.05 L199.22,91.18 L199.80,91.39 L200.38,91.68 L200.96,92.04 L201.53,92.46 L202.11,92.93 L202.69,93.45 L203.27,94.02 L203.84,94.62 L204.42,95.26 L205.00,95.94 L205.58,96.64 L206.16,97.37 L206.73,98.12 L207.31,98.90 L207.89,99.70 L208.47,100.52 L209.04,101.35 L209.62,102.20 L210.20,103.06 L210.78,103.93 L211.35,104.81 L211.93,105.69 L212.51,106.58 L213.09,107.47 L213.66,108.36 L214.24,109.24 L214.82,110.12 L215.40,111.00 L215.97,111.86 L216.55,112.72 L217.13,113.57 L217.71,114.40 L218.28,115.22 L218.86,116.03 L219.44,116.82 L220.02,117.60 L220.60,118.36 L221.17,119.10 L221.75,119.82 L222.33,120.52 L222.91,121.21 L223.48,121.87 L224.06,122.52 L224.64,123.14 L225.22,123.75 L225.79,124.34 L226.37,124.90 L226.95,125.45 L227.53,125.98 L228.10,126.49 L228.68,126.99 L229.26,127.46 L229.84,127.92 L230.41,128.36 L230.99,128.79 L231.57,129.20 L232.15,129.60 L232.72,129.98 L233.30,130.35 L233.88,130.70 L234.46,131.05 L235.04,131.38 L235.61,131.70 L236.19,132.00 L236.77,132.30 L237.35,132.59 L237.92,132.87 L238.50,133.14 L239.08,133.41 L239.66,133.66 L240.23,133.91 L240.81,134.15 L241.39,134.39 L241.97,134.62 L242.54,134.85 L243.12,135.07 L243.70,135.28 L244.28,135.49 L244.85,135.70 L245.43,135.90 L246.01,136.10 L246.59,136.30 L247.16,136.49 L247.74,136.68 L248.32,136.87 L248.90,137.05 L249.48,137.24 L250.05,137.42 L250.63,137.59 L251.21,137.77 L251.79,137.95 L252.36,138.12 L252.94,138.29 L253.52,138.46 L254.10,138.63 L254.67,138.79 L255.25,138.96 L255.83,139.12 L256.41,139.29 L256.98,139.45 L257.56,139.61 L258.14,139.77 L258.72,139.93 L259.29,140.08 L259.87,140.24 L260.45,140.40 L261.03,140.55 L261.60,140.70 L262.18,140.86 L262.76,141.01 L263.34,141.16 L263.92,141.31 L264.49,141.46 L265.07,141.60 L265.65,141.75 L266.23,141.90 L266.80,142.04 L267.38,142.19 L267.96,142.33 L268.54,142.47 L269.11,142.61 L269.69,142.76 L270.27,142.90 L270.85,143.03 L271.42,143.17 L272.00,143.31 L272.58,143.45 L273.16,143.58 L273.73,143.72 L274.31,143.85 L274.89,143.98 L275.47,144.12 L276.04,144.25 L276.62,144.38 L277.20,144.51 L277.78,144.64 L278.36,144.76 L278.93,144.89 L279.51,145.02 L280.09,145.14 L280.67,145.27 L281.24,145.39 L281.82,145.51 L282.40,145.64 L282.98,145.76 L283.55,145.88 L284.13,146.00 L284.71,146.11 L285.29,146.23 L285.86,146.35 L286.44,146.46 L287.02,146.57 L287.60,146.68 L288.17,146.79 L288.75,146.89 L289.33,146.98 L289.91,147.07 L290.48,147.15 L291.06,147.22 L291.64,147.28" stroke="#d6a21c"/>
<path d="M89.48,196.13 L90.06,193.01 L90.64,193.01 L91.21,193.00 L91.79,192.99 L92.37,192.98 L92.95,192.97 L93.52,192.96 L94.10,192.95 L94.68,192.94 L95.26,192.93 L95.83,192.92 L96.41,192.91 L96.99,192.90 L97.57,192.89 L98.14,192.87 L98.72,192.86 L99.30,192.85 L99.88,192.83 L100.45,192.82 L101.03,192.80 L101.61,192.79 L102.19,192.77 L102.76,192.75 L103.34,192.74 L103.92,192.72 L104.50,192.70 L105.08,192.69 L105.65,192.67 L106.23,192.65 L106.81,192.63 L107.39,192.61 L107.96,192.59 L108.54,192.57 L109.12,192.55 L109.70,192.53 L110.27,192.51 L110.85,192.48 L111.43,192.46 L112.01,192.44 L112.58,192.42 L113.16,192.39 L113.74,192.37 L114.32,192.34 L114.89,192.32 L115.47,192.29 L116.05,192.26 L116.63,192.24 L117.20,192.21 L117.78,192.18 L118.36,192.15 L118.94,192.12 L119.52,192.09 L120.09,192.06 L120.67,192.02 L121.25,191.99 L121.83,191.95 L122.40,191.92 L122.98,191.88 L123.56,191.84 L124.14,191.80 L124.71,191.76 L125.29,191.71 L125.87,191.67 L126.45,191.62 L127.02,191.58 L127.60,191.53 L128.18,191.48 L128.76,191.43 L129.33,191.38 L129.91,191.33 L130.49,191.27 L131.07,191.22 L131.64,191.16 L132.22,191.10 L132.80,191.04 L133.38,190.98 L133.96,190.92 L134.53,190.85 L135.11,190.78 L135.69,190.72 L136.27,190.64 L136.84,190.57 L137.42,190.49 L138.00,190.42 L138.58,190.33 L139.15,190.25 L139.73,190.16 L140.31,190.07 L140.89,189.98 L141.46,189.88 L142.04,189.77 L142.62,189.66 L143.20,189.55 L143.77,189.43 L144.35,189.31 L144.93,189.17 L145.51,189.03 L146.08,188.89 L146.66,188.73 L147.24,188.57 L147.82,188.40 L148.40,188.21 L148.97,188.02 L149.55,187.81 L150.13,187.59 L150.71,187.35 L151.28,187.10 L151.86,186.84 L152.44,186.56 L153.02,186.26 L153.59,185.94 L154.17,185.61 L154.75,185.25 L155.33,184.87 L155.90,184.47 L156.48,184.04 L157.06,183.59 L157.64,183.11 L158.21,182.61 L158.79,182.08 L159.37,181.51 L159.95,180.92 L160.52,180.30 L161.10,179.64 L161.68,178.95 L162.26,178.22 L162.84,177.46 L163.41,176.66 L163.99,175.82 L164.57,174.94 L165.15,174.03 L165.72,173.07 L166.30,172.08 L166.88,171.04 L167.46,169.96 L168.03,168.84 L168.61,167.67 L169.19,166.47 L169.77,165.22 L170.34,163.93 L170.92,162.60 L171.50,161.22 L172.08,159.81 L172.65,158.36 L173.23,156.87 L173.81,155.34 L174.39,153.78 L174.96,152.19 L175.54,150.56 L176.12,148.90 L176.70,147.22 L177.28,145.51 L177.85,143.77 L178.43,142.02 L179.01,140.25 L179.59,138.47 L180.16,136.67 L180.74,134.87 L181.32,133.07 L181.90,131.27 L182.47,129.47 L183.05,127.68 L183.63,125.91 L184.21,124.15 L184.78,122.42 L185.36,120.72 L185.94,119.04 L186.52,117.40 L187.09,115.80 L187.67,114.25 L188.25,112.75 L188.83,111.31 L189.40,109.92 L189.98,108.60 L190.56,107.34 L191.14,106.16 L191.72,105.06 L192.29,104.03 L192.87,103.10 L193.45,102.25 L194.03,101.50 L194.60,100.85 L195.18,100.30 L195.76,99.85 L196.34,99.52 L196.91,99.30 L197.49,99.18 L198.07,99.18 L198.65,99.27 L199.22,99.46 L199.80,99.73 L200.38,100.08 L200.96,100.49 L201.53,100.96 L202.11,101.47 L202.69,102.02 L203.27,102.61 L203.84,103.23 L204.42,103.86 L205.00,104.53 L205.58,105.21 L206.16,105.90 L206.73,106.62 L207.31,107.34 L207.89,108.08 L208.47,108.83 L209.04,109.59 L209.62,110.35 L210.20,111.12 L210.78,111.90 L211.35,112.67 L211.93,113.45 L212.51,114.23 L213.09,115.01 L213.66,115.78 L214.24,116.55 L214.82,117.31 L215.40,118.06 L215.97,118.81 L216.55,119.55 L217.13,120.27 L217.71,120.99 L218.28,121.69 L218.86,122.39 L219.44,123.06 L220.02,123.73 L220.60,124.38 L221.17,125.02 L221.75,125.64 L222.33,126.25 L222.91,126.84 L223.48,127.42 L224.06,127.98 L224.64,128.53 L225.22,129.06 L225.79,129.58 L226.37,130.08 L226.95,130.57 L227.53,131.04 L228.10,131.51 L228.68,131.95 L229.26,132.39 L229.84,132.81 L230.41,133.22 L230.99,133.62 L231.57,134.01 L232.15,134.38 L232.72,134.75 L233.30,135.11 L233.88,135.45 L234.46,135.79 L235.04,136.12 L235.61,136.44 L236.19,136.75 L236.77,137.06 L237.35,137.35 L237.92,137.65 L238.50,137.93 L239.08,138.21 L239.66,138.48 L240.23,138.75 L240.81,139.01 L241.39,139.26 L241.97,139.52 L242.54,139.76 L243.12,140.01 L243.70,140.25 L244.28,140.48 L244.85,140.71 L245.43,140.94 L246.01,141.16 L246.59,141.38 L247.16,141.60 L247.74,141.81 L248.32,142.02 L248.90,142.23 L249.48,142.44 L250.05,142.64 L250.63,142.84 L251.21,143.04 L251.79,143.23 L252.36,143.43 L252.94,143.62 L253.52,143.80 L254.10,143.99 L254.67,144.17 L255.25,144.35 L255.83,144.53 L256.41,144.70 L256.98,144.88 L257.56,145.05 L258.14,145.22 L258.72,145.39 L259.29,145.55 L259.87,145.71 L260.45,145.87 L261.03,146.03 L261.60,146.19 L262.18,146.34 L262.76,146.49 L263.34,146.64 L263.92,146.79 L264.49,146.93 L265.07,147.08 L265.65,147.22 L266.23,147.36 L266.80,147.49 L267.38,147.63 L267.96,147.76 L268.54,147.89 L269.11,148.02 L269.69,148.15 L270.27,148.27 L270.85,148.39 L271.42,148.51 L272.00,148.63 L272.58,148.74 L273.16,148.86 L273.73,148.97 L274.31,149.08 L274.89,149.18 L275.47,149.29 L276.04,149.39 L276.62,149.49 L277.20,149.59 L277.78,149.69 L278.36,149.78 L278.93,149.87 L279.51,149.96 L280.09,150.05 L280.67,150.14 L281.24,150.22 L281.82,150.30 L282.40,150.38 L282.98,150.46 L283.55,150.53 L284.13,150.61 L284.71,150.68 L285.29,150.75 L285.86,150.81 L286.44,150.88 L287.02,150.94 L287.60,151.00 L288.17,151.05 L288.75,151.10 L289.33,151.15 L289.91,151.19 L290.48,151.23 L291.06,151.27 L291.64,151.30" stroke="#1fcfd6"/>
<path d="M89.48,194.53 L90.06,191.39 L90.64,191.36 L91.21,191.34 L91.79,191.30 L92.37,191.27 L92.95,191.24 L93.52,191.20 L94.10,191.16 L94.68,191.12 L95.26,191.08 L95.83,191.05 L96.41,191.01 L96.99,190.97 L97.57,190.93 L98.14,190.89 L98.72,190.85 L99.30,190.81 L99.88,190.77 L100.45,190.74 L101.03,190.70 L101.61,190.66 L102.19,190.62 L102.76,190.58 L103.34,190.55 L103.92,190.51 L104.50,190.47 L105.08,190.43 L105.65,190.40 L106.23,190.36 L106.81,190.32 L107.39,190.29 L107.96,190.25 L108.54,190.21 L109.12,190.18 L109.70,190.14 L110.27,190.11 L110.85,190.07 L111.43,190.04 L112.01,190.00 L112.58,189.97 L113.16,189.93 L113.74,189.90 L114.32,189.86 L114.89,189.83 L115.47,189.79 L116.05,189.76 L116.63,189.72 L117.20,189.69 L117.78,189.66 L118.36,189.62 L118.94,189.59 L119.52,189.55 L120.09,189.52 L120.67,189.48 L121.25,189.44 L121.83,189.41 L122.40,189.37 L122.98,189.33 L123.56,189.29 L124.14,189.25 L124.71,189.22 L125.29,189.18 L125.87,189.14 L126.45,189.10 L127.02,189.05 L127.60,189.01 L128.18,188.97 L128.76,188.93 L129.33,188.88 L129.91,188.84 L130.49,188.80 L131.07,188.75 L131.64,188.70 L132.22,188.66 L132.80,188.61 L133.38,188.56 L133.96,188.51 L134.53,188.46 L135.11,188.41 L135.69,188.35 L136.27,188.30 L136.84,188.24 L137.42,188.18 L138.00,188.12 L138.58,188.05 L139.15,187.99 L139.73,187.91 L140.31,187.84 L140.89,187.76 L141.46,187.68 L142.04,187.60 L142.62,187.51 L143.20,187.41 L143.77,187.31 L144.35,187.21 L144.93,187.09 L145.51,186.97 L146.08,186.85 L146.66,186.71 L147.24,186.56 L147.82,186.41 L148.40,186.24 L148.97,186.06 L149.55,185.87 L150.13,185.67 L150.71,185.45 L151.28,185.22 L151.86,184.97 L152.44,184.70 L153.02,184.42 L153.59,184.12 L154.17,183.80 L154.75,183.45 L155.33,183.09 L155.90,182.70 L156.48,182.29 L157.06,181.85 L157.64,181.39 L158.21,180.90 L158.79,180.39 L159.37,179.84 L159.95,179.27 L160.52,178.66 L161.10,178.02 L161.68,177.35 L162.26,176.65 L162.84,175.91 L163.41,175.14 L163.99,174.33 L164.57,173.49 L165.15,172.61 L165.72,171.69 L166.30,170.74 L166.88,169.75 L167.46,168.72 L168.03,167.66 L168.61,166.56 L169.19,165.42 L169.77,164.25 L170.34,163.04 L170.92,161.80 L171.50,160.52 L172.08,159.21 L172.65,157.87 L173.23,156.50 L173.81,155.10 L174.39,153.68 L174.96,152.23 L175.54,150.75 L176.12,149.26 L176.70,147.75 L177.28,146.22 L177.85,144.69 L178.43,143.14 L179.01,141.58 L179.59,140.02 L180.16,138.46 L180.74,136.90 L181.32,135.35 L181.90,133.81 L182.47,132.28 L183.05,130.76 L183.63,129.27 L184.21,127.80 L184.78,126.36 L185.36,124.96 L185.94,123.58 L186.52,122.25 L187.09,120.96 L187.67,119.71 L188.25,118.52 L188.83,117.38 L189.40,116.29 L189.98,115.27 L190.56,114.31 L191.14,113.41 L191.72,112.59 L192.29,111.83 L192.87,111.16 L193.45,110.56 L194.03,110.04 L194.60,109.61 L195.18,109.27 L195.76,109.01 L196.34,108.84 L196.91,108.76 L197.49,108.77 L198.07,108.86 L198.65,109.02 L199.22,109.25 L199.80,109.54 L200.38,109.89 L200.96,110.28 L201.53,110.70 L202.11,111.16 L202.69,111.64 L203.27,112.15 L203.84,112.68 L204.42,113.23 L205.00,113.79 L205.58,114.36 L206.16,114.94 L206.73,115.54 L207.31,116.14 L207.89,116.75 L208.47,117.36 L209.04,117.97 L209.62,118.59 L210.20,119.21 L210.78,119.83 L211.35,120.44 L211.93,121.05 L212.51,121.66 L213.09,122.26 L213.66,122.85 L214.24,123.43 L214.82,124.01 L215.40,124.58 L215.97,125.13 L216.55,125.67 L217.13,126.21 L217.71,126.73 L218.28,127.24 L218.86,127.73 L219.44,128.22 L220.02,128.69 L220.60,129.15 L221.17,129.59 L221.75,130.03 L222.33,130.45 L222.91,130.86 L223.48,131.25 L224.06,131.64 L224.64,132.02 L225.22,132.38 L225.79,132.73 L226.37,133.08 L226.95,133.41 L227.53,133.74 L228.10,134.06 L228.68,134.36 L229.26,134.67 L229.84,134.96 L230.41,135.25 L230.99,135.52 L231.57,135.80 L232.15,136.07 L232.72,136.33 L233.30,136.59 L233.88,136.84 L234.46,137.08 L235.04,137.33 L235.61,137.57 L236.19,137.80 L236.77,138.03 L237.35,138.26 L237.92,138.49 L238.50,138.71 L239.08,138.93 L239.66,139.15 L240.23,139.36 L240.81,139.57 L241.39,139.78 L241.97,139.99 L242.54,140.19 L243.12,140.40 L243.70,140.60 L244.28,140.80 L244.85,141.00 L245.43,141.19 L246.01,141.38 L246.59,141.58 L247.16,141.77 L247.74,141.96 L248.32,142.14 L248.90,142.33 L249.48,142.51 L250.05,142.70 L250.63,142.88 L251.21,143.06 L251.79,143.24 L252.36,143.41 L252.94,143.59 L253.52,143.76 L254.10,143.94 L254.67,144.11 L255.25,144.28 L255.83,144.44 L256.41,144.61 L256.98,144.78 L257.56,144.94 L258.14,145.10 L258.72,145.26 L259.29,145.42 L259.87,145.58 L260.45,145.74 L261.03,145.89 L261.60,146.05 L262.18,146.20 L262.76,146.35 L263.34,146.50 L263.92,146.65 L264.49,146.79 L265.07,146.94 L265.65,147.08 L266.23,147.22 L266.80,147.37 L267.38,147.50 L267.96,147.64 L268.54,147.78 L269.11,147.91 L269.69,148.05 L270.27,148.18 L270.85,148.31 L271.42,148.44 L272.00,148.57 L272.58,148.70 L273.16,148.82 L273.73,148.94 L274.31,149.07 L274.89,149.19 L275.47,149.31 L276.04,149.43 L276.62,149.54 L277.20,149.66 L277.78,149.77 L278.36,149.88 L278.93,149.99 L279.51,150.10 L280.09,150.21 L280.67,150.32 L281.24,150.42 L281.82,150.53 L282.40,150.63 L282.98,150.73 L283.55,150.83 L284.13,150.93 L284.71,151.03 L285.29,151.12 L285.86,151.21 L286.44,151.30 L287.02,151.39 L287.60,151.48 L288.17,151.56 L288.75,151.64 L289.33,151.71 L289.91,151.78 L290.48,151.84 L291.06,151.90 L291.64,151.94" stroke="#7f4545"/>
</g>
<g font-family='"Liberation Serif", serif' font-weight="bold" font-size="9.3" fill="#111" stroke="#111" stroke-width="0.22">
<path d="M235.6,16.60 H254.4" stroke="#4d4d4d" stroke-width="1.5"/>
<text transform="translate(256,19.80) scale(0.965,1)">0 pg/ml</text>
<path d="M235.6,27.33 H254.4" stroke="#ff3d3d" stroke-width="1.5"/>
<text transform="translate(256,30.53) scale(0.965,1)">0.5 pg/ml</text>
<path d="M235.6,38.06 H254.4" stroke="#2f6fe6" stroke-width="1.5"/>
<text transform="translate(256,41.26) scale(0.965,1)">1 pg/ml</text>
<path d="M235.6,48.79 H254.4" stroke="#3caf6e" stroke-width="1.5"/>
<text transform="translate(256,51.99) scale(0.965,1)">10 pg/ml</text>
<path d="M235.6,59.52 H254.4" stroke="#bf7ff5" stroke-width="1.5"/>
<text transform="translate(256,62.72) scale(0.965,1)">50 pg/ml</text>
<path d="M235.6,70.25 H254.4" stroke="#d6a21c" stroke-width="1.5"/>
<text transform="translate(256,73.45) scale(0.965,1)">75 pg/ml</text>
<path d="M235.6,80.98 H254.4" stroke="#1fcfd6" stroke-width="1.5"/>
<text transform="translate(256,84.18) scale(0.965,1)">100 pg/ml</text>
<path d="M235.6,91.71 H254.4" stroke="#7f4545" stroke-width="1.5"/>
<text transform="translate(256,94.91) scale(0.965,1)">150 pg/ml</text>
</g>
<g stroke="#4a4a4a" stroke-width="1.15" fill="none">
<path d="M410.46,30.00 V215.40 H638.25"/>
<path d="M406.16,215.40 H410.46"/>
<path d="M406.16,188.99 H410.46"/>
<path d="M406.16,162.57 H410.46"/>
<path d="M406.16,136.16 H410.46"/>
<path d="M406.16,109.74 H410.46"/>
<path d="M406.16,83.32 H410.46"/>
<path d="M406.16,56.91 H410.46"/>
<path d="M406.16,30.50 H410.46"/>
<path d="M408.46,202.19 H410.46"/>
<path d="M408.46,175.78 H410.46"/>
<path d="M408.46,149.36 H410.46"/>
<path d="M408.46,122.95 H410.46"/>
<path d="M408.46,96.53 H410.46"/>
<path d="M408.46,70.12 H410.46"/>
<path d="M408.46,43.70 H410.46"/>
<path d="M423.10,215.40 V218.90"/>
<path d="M448.38,215.40 V218.90"/>
<path d="M473.65,215.40 V218.90"/>
<path d="M498.93,215.40 V218.90"/>
<path d="M524.20,215.40 V218.90"/>
<path d="M549.48,215.40 V218.90"/>
<path d="M574.76,215.40 V218.90"/>
<path d="M600.03,215.40 V218.90"/>
<path d="M625.31,215.40 V218.90"/>
<path d="M410.46,215.40 V217.40"/>
<path d="M435.74,215.40 V217.40"/>
<path d="M461.01,215.40 V217.40"/>
<path d="M486.29,215.40 V217.40"/>
<path d="M511.57,215.40 V217.40"/>
<path d="M536.84,215.40 V217.40"/>
<path d="M562.12,215.40 V217.40"/>
<path d="M587.39,215.40 V217.40"/>
<path d="M612.67,215.40 V217.40"/>
<path d="M637.95,215.40 V217.40"/>
</g>
<g font-family='"Liberation Sans", sans-serif' font-weight="bold" font-size="8.7" fill="#111">
<text x="404.16" y="217.90" text-anchor="end">15</text>
<text x="404.16" y="191.49" text-anchor="end">20</text>
<text x="404.16" y="165.07" text-anchor="end">25</text>
<text x="404.16" y="138.66" text-anchor="end">30</text>
<text x="404.16" y="112.24" text-anchor="end">35</text>
<text x="404.16" y="85.82" text-anchor="end">40</text>
<text x="404.16" y="59.41" text-anchor="end">45</text>
<text x="404.16" y="33.00" text-anchor="end">50</text>
<text x="423.10" y="228.2" text-anchor="middle">0</text>
<text x="448.38" y="228.2" text-anchor="middle">20</text>
<text x="473.65" y="228.2" text-anchor="middle">40</text>
<text x="498.93" y="228.2" text-anchor="middle">60</text>
<text x="524.20" y="228.2" text-anchor="middle">80</text>
<text x="549.48" y="228.2" text-anchor="middle">100</text>
<text x="574.76" y="228.2" text-anchor="middle">120</text>
<text x="600.03" y="228.2" text-anchor="middle">140</text>
<text x="625.31" y="228.2" text-anchor="middle">160</text>
</g>
<text x="519" y="244.5" font-family='"Liberation Serif", serif' font-weight="bold" font-size="9.2" fill="#111" stroke="#111" stroke-width="0.2" text-anchor="middle" textLength="51.3" lengthAdjust="spacingAndGlyphs">[Flu](pg/mL)</text>
<text transform="translate(430.6,43.6) scale(0.9,1)" font-family='"Liberation Sans", sans-serif' font-weight="bold" font-size="16.2" fill="#000">B</text>
<text x="0" y="0" font-family='"Liberation Serif", serif' font-weight="bold" font-style="italic" font-size="9.6" fill="#1a1a1a" text-anchor="middle" transform="translate(387.3,134) rotate(-90)">(I<tspan dy="-4" font-size="9">0</tspan><tspan dy="4">-i)/I</tspan><tspan dy="-4" font-size="9">0</tspan><tspan dy="4" font-size="8.5"> %</tspan></text>
<path d="M423.61,197.44 L612.67,34.88" stroke="#111" stroke-width="1.3"/>
<path d="M423.86,196.96 V199.60" stroke="#999" stroke-width="0.6" fill="none"/>
<path d="M421.76,196.96 h4.2 M421.76,199.60 h4.2" stroke="#888" stroke-width="0.7" fill="none"/>
<circle cx="423.86" cy="198.28" r="1.45" fill="#111"/>
<path d="M435.74,188.46 V192.15" stroke="#999" stroke-width="0.6" fill="none"/>
<path d="M433.64,188.46 h4.2 M433.64,192.15 h4.2" stroke="#888" stroke-width="0.7" fill="none"/>
<circle cx="435.74" cy="190.31" r="1.45" fill="#111"/>
<path d="M486.29,139.17 V142.86" stroke="#999" stroke-width="0.6" fill="none"/>
<path d="M484.19,139.17 h4.2 M484.19,142.86 h4.2" stroke="#888" stroke-width="0.7" fill="none"/>
<circle cx="486.29" cy="141.02" r="1.45" fill="#111"/>
<path d="M517.88,111.59 V114.76" stroke="#999" stroke-width="0.6" fill="none"/>
<path d="M515.78,111.59 h4.2 M515.78,114.76 h4.2" stroke="#888" stroke-width="0.7" fill="none"/>
<circle cx="517.88" cy="113.17" r="1.45" fill="#111"/>
<path d="M549.48,86.60 V89.77" stroke="#999" stroke-width="0.6" fill="none"/>
<path d="M547.38,86.60 h4.2 M547.38,89.77 h4.2" stroke="#888" stroke-width="0.7" fill="none"/>
<circle cx="549.48" cy="88.19" r="1.45" fill="#111"/>
<path d="M612.67,51.05 V56.54" stroke="#999" stroke-width="0.6" fill="none"/>
<path d="M610.57,51.05 h4.2 M610.57,56.54 h4.2" stroke="#888" stroke-width="0.7" fill="none"/>
<circle cx="612.67" cy="53.79" r="1.45" fill="#111"/>
</svg>
</body></html>
